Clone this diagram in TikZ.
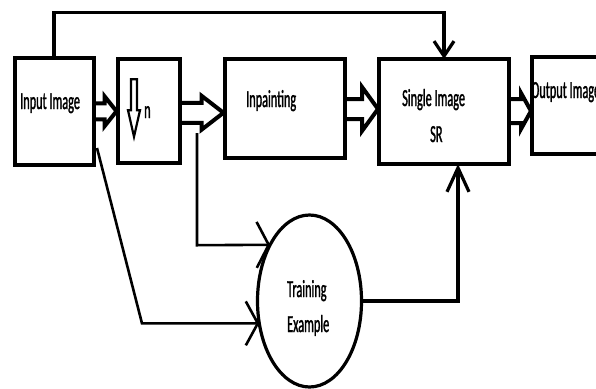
\documentclass[tikz,border=0pt]{standalone}
\usepackage{fontspec}
\newfontfamily\lbl[FakeStretch=0.5,FakeBold=1.2]{Carlito}
\usetikzlibrary{arrows.meta,calc,shapes.geometric}
\begin{document}
\begin{tikzpicture}[x=1pt,y=-1pt,
  box/.style={draw, line width=4pt, outer sep=0pt, inner sep=0pt},
  lab/.style={inner sep=0pt, anchor=base west, font=\lbl\fontsize{24.5}{28}\selectfont},
  conn/.style={line width=3.2pt},
  fat/.style={line width=4pt, line join=miter},
  pics/fatarrow/.style n args={4}{code={
    \draw[fat] (0,-#2) -- (#4,-#2) -- (#4,-#3) -- (#1,0) -- (#4,#3) -- (#4,#2) -- (0,#2);
  }}]
\useasboundingbox (0,0) rectangle (596,388);
\clip (0,0) rectangle (596,388);

% blocks
\node[box, minimum width=79pt,    minimum height=106.5pt] (in)  at (54,111.25)  {};
\node[box, minimum width=62pt,    minimum height=103.5pt] (dn)  at (148.5,110.75) {};
\node[box, minimum width=120.5pt, minimum height=98.5pt]  (inp) at (284.75,108.25) {};
\node[box, minimum width=130pt,   minimum height=105pt]   (sr)  at (444,111.5) {};
\node[box, minimum width=100pt,   minimum height=97pt]    (out) at (581.5,105.5) {};
\node[box, ellipse, line width=3.2pt, minimum width=104pt, minimum height=172pt] (ell) at (309.5,301) {};

% labels
\node[lab] at (20,109)  {Input Image};
\node[lab] at (144,118) {n};
\node[lab] at (246,107) {Inpainting};
\node[lab] at (402,106) {Single Image};
\node[lab] at (430,142) {SR};
\node[lab] at (531,98)  {Output Image};
\node[lab] at (287,297) {Training};
\node[lab] at (287,332) {Example};

% down-sampling symbol
\begin{scope}[shift={(dn.center)}]
  \draw[line width=2.2pt, line join=miter]
    (-17.5,-31.5) -- (-17.5,-0.5) -- (-20.5,-0.5) -- (-14.5,26) -- (-8.5,-0.5) -- (-11.5,-0.5) -- (-11.5,-31.5) -- cycle;
\end{scope}

% hollow block arrows
\pic at (in.east)                 {fatarrow={23}{8}{15}{11}};
\pic at ($(dn.east)+(0,2)$)       {fatarrow={44}{10}{17}{22}};
\pic at ($(inp.east)+(0,0.75)$)   {fatarrow={33}{10}{22}{17}};
\pic at ($(sr.east)+(0,-0.5)$)    {fatarrow={22}{12}{18}{12}};

% line connectors
\draw[conn, -{Straight Barb[length=15pt,width=20pt]}]
  (in.north) -- ++(0,-45.5) -| (sr.north);
\coordinate (d0) at (97,148);
\coordinate (d1) at (142,323.4);
\draw[line width=2.6pt, -{Straight Barb[length=12pt,width=44pt]}]
  (d0) -- (d1) -- (ell.204);
\coordinate (v0) at (197,133);
\coordinate (v1) at (197,245.2);
\draw[line width=2.6pt, -{Straight Barb[length=12pt,width=46pt]}]
  (v0) -- (v1) -- (ell.125);
\draw[conn, -{Straight Barb[length=24pt,width=22pt]}]
  (ell.east) -| ($(sr.south)+(14,0)$);
\end{tikzpicture}
\end{document}
